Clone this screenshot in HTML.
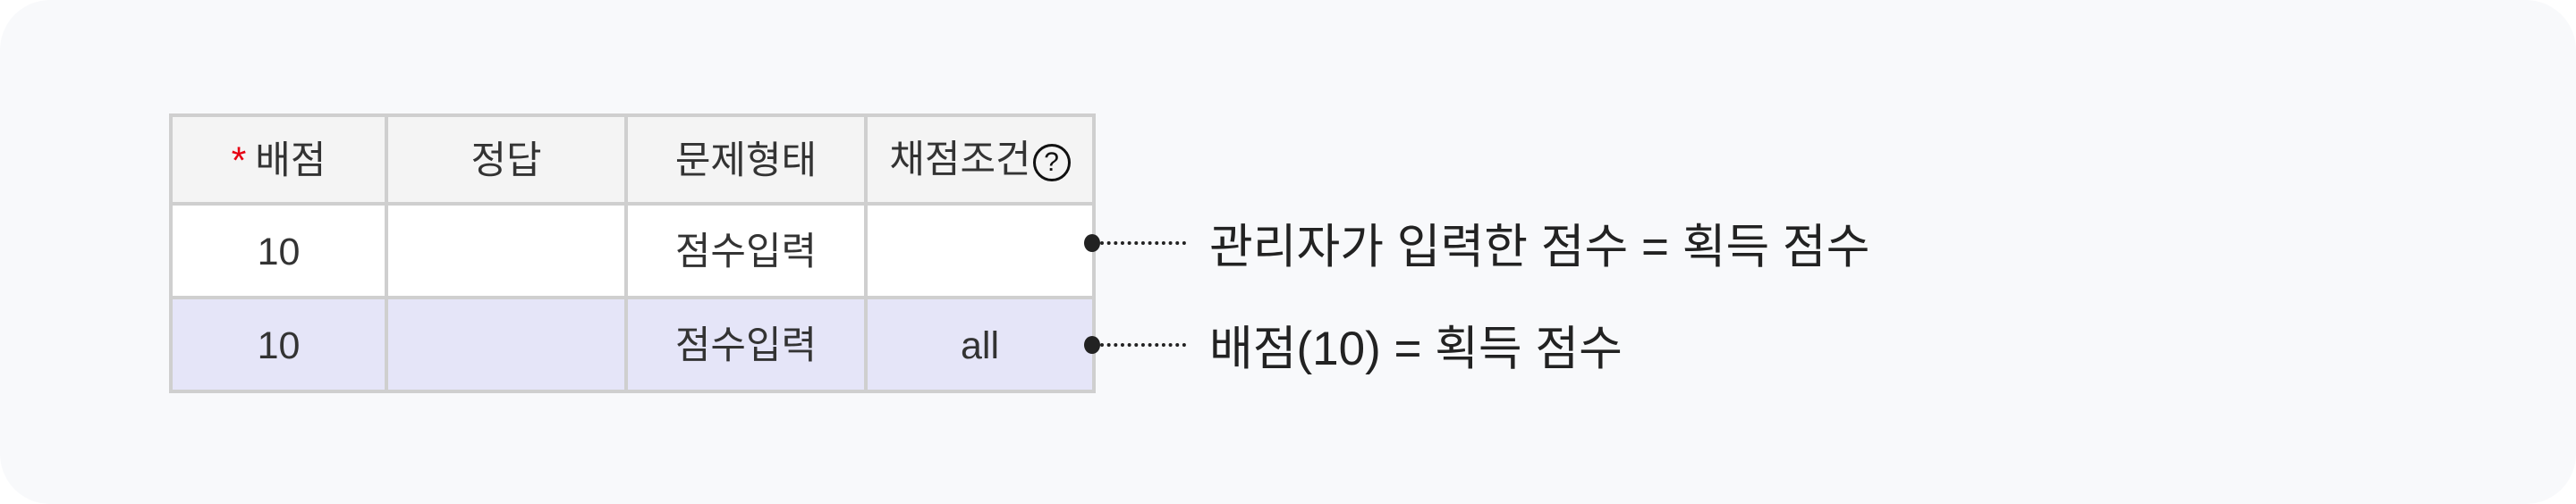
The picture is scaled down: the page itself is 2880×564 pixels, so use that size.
<!DOCTYPE html>
<html><head><meta charset="utf-8"><style>
html,body{margin:0;padding:0;background:#fff;}
body{width:2880px;height:564px;position:relative;overflow:hidden;font-family:"Liberation Sans","Noto Sans CJK KR",sans-serif;}
.bg{position:absolute;left:0;top:0;width:2880px;height:564px;background:#f8f9fb;border-radius:56px;}
table{position:absolute;left:189px;top:127px;border-collapse:collapse;font-size:43px;color:#333;}
td{border:4px solid #cfcfcf;text-align:center;padding:4px 0 0 0;line-height:1;}
tr.h td{background:#f4f4f4;height:91px;}
tr.r1 td{background:#fff;height:97px;}
tr.r2 td{background:#e5e5f8;height:97px;}
.star{color:#e60012;margin-right:10px;}
.q{display:inline-block;width:36px;height:36px;border:3px solid #111;border-radius:50%;font-size:30px;line-height:36px;color:#111;vertical-align:middle;margin-left:2px;}
.note{position:absolute;left:1352px;font-size:53px;line-height:1;color:#222;white-space:nowrap;}
.dot{position:absolute;width:18px;height:20px;border-radius:50%;background:#222;}
.line{position:absolute;left:1230px;width:96px;border-top:4px dotted #222;}
</style></head><body>
<div class="bg"></div>
<table>
<tr class="h"><td style="width:237px"><span class="star">*</span>배점</td><td style="width:264px">정답</td><td style="width:264px">문제형태</td><td style="width:251px">채점조건<span class="q">?</span></td></tr>
<tr class="r1"><td>10</td><td></td><td>점수입력</td><td></td></tr>
<tr class="r2"><td>10</td><td></td><td>점수입력</td><td>all</td></tr>
</table>
<div class="dot" style="left:1212px;top:262px"></div>
<div class="line" style="top:270px"></div>
<div class="note" style="top:250px">관리자가 입력한 점수 = 획득 점수</div>
<div class="dot" style="left:1212px;top:376px"></div>
<div class="line" style="top:384px"></div>
<div class="note" style="top:364px">배점(10) = 획득 점수</div>
</body></html>
